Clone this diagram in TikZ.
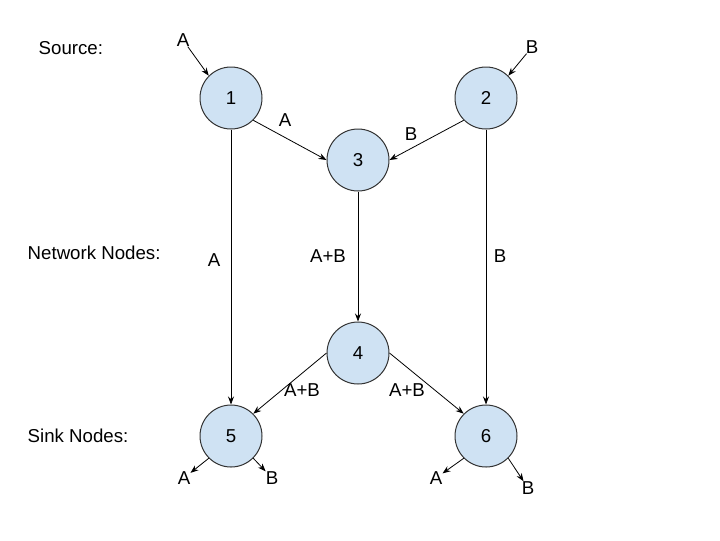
\documentclass[tikz,border=0pt]{standalone}
\usepackage{fontspec}
\setmainfont{Liberation Sans}
\usetikzlibrary{arrows.meta, positioning}
\definecolor{nodeblue}{HTML}{CFE2F3}
\tikzset{
    netnode/.style={circle, draw=black!80, fill=nodeblue, line width=0.75pt, minimum size=46.5pt, inner sep=0pt},
    flow/.style={-{Stealth[length=6pt,width=4.5pt]}, line width=0.6pt},
    lbl/.style={inner sep=0pt},
}
\begin{document}
\begin{tikzpicture}[x=0.75pt, y=-0.75pt, font=\fontsize{14}{16}\selectfont]
\useasboundingbox (0,0) rectangle (720,540);
% row titles
\node[anchor=west] (tsrc) at (34,48) {Source:};
\node[anchor=west] (tnet) at (23,253) {Network Nodes:};
\node[anchor=west] (tsink) at (23,436) {Sink Nodes:};
% nodes
\node[netnode] (n1) at (231,98) {1};
\node[netnode] (n2) at (486,98) {2};
\node[netnode] (n3) at (358,160) {3};
\node[netnode] (n4) at (358,353) {4};
\node[netnode] (n5) at (231,436) {5};
\node[netnode] (n6) at (486,436) {6};
% inputs and outputs
\node[lbl] (inA) at (183,40) {A};
\node[lbl] (inB) at (532,47) {B};
\node[lbl] (outA5) at (184,478) {A};
\node[lbl] (outB5) at (272,478) {B};
\node[lbl] (outA6) at (436,478) {A};
\node[lbl] (outB6) at (528,488) {B};
\draw[flow] (inA) -- (n1.north west);
\draw[flow] (inB) -- (n2.north east);
\draw[flow] (n5.south west) -- (outA5);
\draw[flow] (n5.south east) -- (outB5);
\draw[flow] (n6.south west) -- (outA6);
\draw[flow] (n6.south east) -- (outB6);
% edges
\draw[flow] (n1.south east) -- (n3.west);
\draw[flow] (n2.south west) -- (n3.east);
\draw[flow] (n1) -- (n5);
\draw[flow] (n3) -- (n4);
\draw[flow] (n2) -- (n6);
\draw[flow] (n4.west) -- (n5.north east);
\draw[flow] (n4.east) -- (n6.north west);
% edge labels
\node (l13) at (285,120) {A};
\node (l23) at (411,134) {B};
\node (l15) at (214,260) {A};
\node (l34) at (328,256) {A+B};
\node (l26) at (500,256) {B};
\node (l45) at (302,390) {A+B};
\node (l46) at (407,390) {A+B};
\end{tikzpicture}
\end{document}
